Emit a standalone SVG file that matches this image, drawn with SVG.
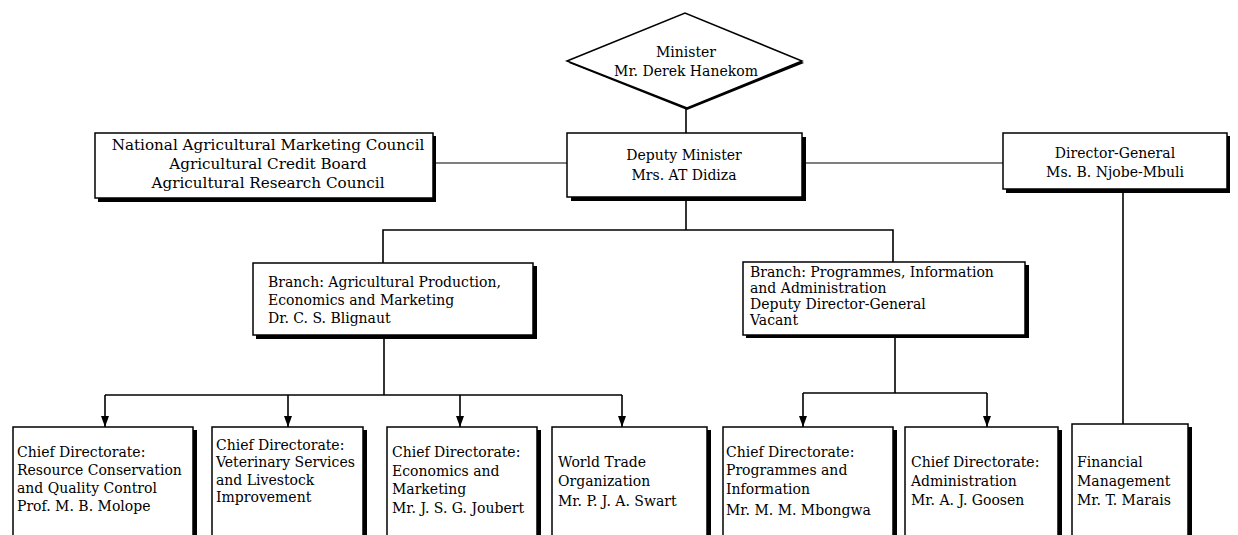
<svg xmlns="http://www.w3.org/2000/svg" width="1238" height="535" viewBox="0 0 1238 535">
<style>
text{font-family:"DejaVu Serif","Liberation Serif",serif;font-size:14px;fill:#000}
.c{text-anchor:middle}
.big{font-size:15.2px}
.box{fill:#fff;stroke:#000;stroke-width:1.5}
.sh{fill:#000}
.ln{stroke:#000;stroke-width:1.6;fill:none}
.thin{stroke:#000;stroke-width:1.1;fill:none}
</style>
<defs>
<marker id="ah" markerWidth="11" markerHeight="8" refX="11" refY="4" orient="auto" markerUnits="userSpaceOnUse" viewBox="0 0 11 8">
<path d="M0,0 L11,4 L0,8 Z" fill="#000"/>
</marker>
</defs>
<rect width="1238" height="535" fill="#fff"/>
<g id="connectors">
<line class="ln" x1="686" y1="108" x2="686" y2="133"/>
<line class="thin" x1="433" y1="163" x2="567" y2="163"/>
<line class="thin" x1="802" y1="163" x2="1003" y2="163"/>
<line class="ln" x1="686" y1="197" x2="686" y2="230"/>
<polyline class="ln" points="383,263 383,230 893,230 893,262"/>
<line class="ln" x1="384" y1="338" x2="384" y2="395"/>
<polyline class="ln" points="105,395 622,395"/>
<line class="ln" x1="105" y1="395" x2="105" y2="427" marker-end="url(#ah)"/>
<line class="ln" x1="288" y1="395" x2="288" y2="427" marker-end="url(#ah)"/>
<line class="ln" x1="460" y1="395" x2="460" y2="427" marker-end="url(#ah)"/>
<line class="ln" x1="622" y1="395" x2="622" y2="427" marker-end="url(#ah)"/>
<line class="ln" x1="895" y1="338" x2="895" y2="393"/>
<polyline class="ln" points="803,393 987,393"/>
<line class="ln" x1="803" y1="393" x2="803" y2="427" marker-end="url(#ah)"/>
<line class="ln" x1="987" y1="393" x2="987" y2="427" marker-end="url(#ah)"/>
<line class="ln" x1="1123" y1="191" x2="1123" y2="424"/>
</g>
<g id="minister">
<polygon class="sh" points="569,63 687,110 804,63 800,61 687,106 571,61"/>
<polygon class="box" points="567,61 685,13 802,61 687,108"/>
<text class="c" x="686" y="57">Minister</text>
<text class="c" x="686" y="76">Mr. Derek Hanekom</text>
</g>
<g id="councils">
<rect class="sh" x="98" y="136" width="338" height="66"/>
<rect class="box" x="95" y="133" width="338" height="65"/>
<text class="c big" x="268" y="150">National Agricultural Marketing Council</text>
<text class="c big" x="268" y="169">Agricultural Credit Board</text>
<text class="c big" x="268" y="188">Agricultural Research Council</text>
</g>
<g id="deputy-minister">
<rect class="sh" x="571" y="137" width="235" height="64"/>
<rect class="box" x="567" y="133" width="235" height="64"/>
<text class="c" x="684" y="160">Deputy Minister</text>
<text class="c" x="684" y="180">Mrs. AT Didiza</text>
</g>
<g id="director-general">
<rect class="sh" x="1006" y="136" width="224" height="57"/>
<rect class="box" x="1003" y="133" width="224" height="56"/>
<text class="c" x="1115" y="158">Director-General</text>
<text class="c" x="1115" y="177">Ms. B. Njobe-Mbuli</text>
</g>
<g id="branch-production">
<rect class="sh" x="256" y="266" width="281" height="73"/>
<rect class="box" x="253" y="263" width="280" height="72"/>
<text x="268" y="287">Branch: Agricultural Production,</text>
<text x="268" y="305">Economics and Marketing</text>
<text x="268" y="323">Dr. C. S. Blignaut</text>
</g>
<g id="branch-programmes">
<rect class="sh" x="746" y="265" width="283" height="73"/>
<rect class="box" x="743" y="262" width="282" height="73"/>
<text x="750" y="277">Branch: Programmes, Information</text>
<text x="750" y="293">and Administration</text>
<text x="750" y="309">Deputy Director-General</text>
<text x="750" y="325">Vacant</text>
</g>
<g id="cd-resource">
<rect class="sh" x="16" y="430" width="181" height="120"/>
<rect class="box" x="13" y="427" width="180" height="120"/>
<text x="17" y="457">Chief Directorate:</text>
<text x="17" y="475">Resource Conservation</text>
<text x="17" y="493">and Quality Control</text>
<text x="17" y="511">Prof. M. B. Molope</text>
</g>
<g id="cd-veterinary">
<rect class="sh" x="215" y="430" width="152" height="120"/>
<rect class="box" x="212" y="427" width="151" height="120"/>
<text x="216" y="450">Chief Directorate:</text>
<text x="216" y="467">Veterinary Services</text>
<text x="216" y="485">and Livestock</text>
<text x="216" y="502">Improvement</text>
</g>
<g id="cd-economics">
<rect class="sh" x="390" y="430" width="151" height="120"/>
<rect class="box" x="387" y="427" width="150" height="120"/>
<text x="392" y="457">Chief Directorate:</text>
<text x="392" y="476">Economics and</text>
<text x="392" y="494">Marketing</text>
<text x="392" y="513">Mr. J. S. G. Joubert</text>
</g>
<g id="wto">
<rect class="sh" x="555" y="430" width="156" height="120"/>
<rect class="box" x="552" y="427" width="155" height="120"/>
<text x="558" y="467">World Trade</text>
<text x="558" y="486">Organization</text>
<text x="558" y="506">Mr. P. J. A. Swart</text>
</g>
<g id="cd-programmes">
<rect class="sh" x="726" y="430" width="171" height="120"/>
<rect class="box" x="723" y="427" width="170" height="120"/>
<text x="726" y="457">Chief Directorate:</text>
<text x="726" y="475">Programmes and</text>
<text x="726" y="494">Information</text>
<text x="726" y="515">Mr. M. M. Mbongwa</text>
</g>
<g id="cd-administration">
<rect class="sh" x="908" y="430" width="154" height="120"/>
<rect class="box" x="905" y="427" width="153" height="120"/>
<text x="911" y="467">Chief Directorate:</text>
<text x="911" y="486">Administration</text>
<text x="911" y="505">Mr. A. J. Goosen</text>
</g>
<g id="financial">
<rect class="sh" x="1075" y="427" width="117" height="123"/>
<rect class="box" x="1072" y="424" width="116" height="123"/>
<text x="1077" y="467">Financial</text>
<text x="1077" y="486">Management</text>
<text x="1077" y="505">Mr. T. Marais</text>
</g>
</svg>
